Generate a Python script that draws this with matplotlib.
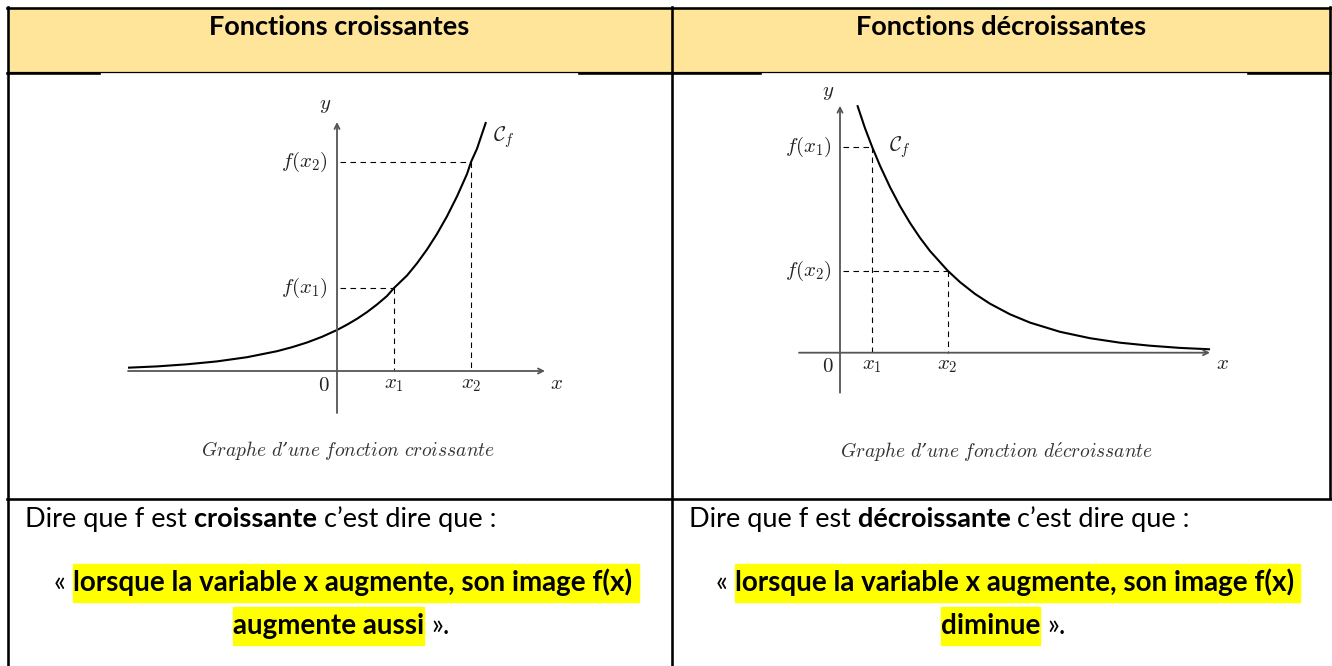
import matplotlib.pyplot as plt
from matplotlib.patches import Rectangle

plt.rcParams['mathtext.fontset'] = 'cm'
plt.rcParams['font.family'] = ['Lato', 'DejaVu Sans']

# --- donnees (1 unite = 10 px de l'image d'origine) ---
# fonction croissante
inc_x = [-20.9, -18.0, -15.0, -12.0, -9.0, -6.0, -4.5, -3.0, -1.5, 0.0, 1.0, 2.0, 3.0, 4.0, 5.0,
         5.7, 7.0, 8.0, 9.0, 10.0, 11.0, 12.0, 13.0, 13.4, 14.0, 14.9]
inc_y = [0.33, 0.46, 0.67, 0.96, 1.38, 1.98, 2.38, 2.85, 3.42, 4.1, 4.63, 5.22, 5.89, 6.65, 7.5,
         8.3, 9.55, 10.77, 12.15, 13.71, 15.47, 17.46, 19.7, 20.9, 22.23, 24.9]
inc_x12 = [5.7, 13.4]
inc_f12 = [8.3, 20.9]

# fonction decroissante
dec_x = [1.73, 2.5, 3.23, 4.0, 5.0, 6.0, 7.0, 8.0, 9.0, 10.77, 12.0, 13.5, 15.0, 17.0, 19.0,
         22.0, 25.0, 28.0, 31.0, 34.0, 37.0]
dec_y = [24.75, 22.45, 20.54, 18.7, 16.56, 14.66, 12.98, 11.49, 10.17, 8.2, 7.06, 5.88, 4.9, 3.84, 3.01,
         2.09, 1.45, 1.0, 0.7, 0.48, 0.34]
dec_x12 = [3.23, 10.77]
dec_f12 = [20.54, 8.2]

headers = ["Fonctions croissantes", "Fonctions décroissantes"]
mots = ["croissante", "décroissante"]
fin = ["augmente aussi", "diminue"]
legendes = ["$\\mathit{Graphe\\ d}$\u2019$\\mathit{une\\ fonction\\ croissante}$",
            "$\\mathit{Graphe\\ d}$\u2019$\\mathit{une\\ fonction\\ d\\acute{e}croissante}$"]

W, H = 1332, 666
fig = plt.figure(figsize=(W / 100, H / 100), dpi=100)
ax0 = fig.add_axes([0, 0, 1, 1])
ax0.set_xlim(0, W)
ax0.set_ylim(H, 0)
ax0.axis('off')
r = fig.canvas.get_renderer()

# --- tableau ---
ax0.add_patch(Rectangle((8, 8), 1322, 64, color='#FFE599', zorder=0))
px = 0.72
lw_b = 2.6 * px
ax0.plot([7, 1331], [8, 8], color='black', lw=lw_b)
ax0.plot([7.5, 7.5], [7, H], color='black', lw=lw_b)
ax0.plot([671.5, 671.5], [7, H], color='black', lw=lw_b)
ax0.plot([1330, 1330], [7, 498], color='black', lw=lw_b)
ax0.plot([7, 1330], [72, 72], color='black', lw=1.2 * px)
for a, b in [(7, 99), (579, 760), (1248, 1330)]:
    ax0.plot([a, b], [73, 73], color='black', lw=lw_b)
ax0.plot([7, W], [498.5, 498.5], color='black', lw=lw_b)


def largeur(s, **kw):
    t = ax0.text(0, 0, '|' + s + '|', **kw)
    w1 = t.get_window_extent(renderer=r).width
    t.remove()
    t = ax0.text(0, 0, '||', **kw)
    w2 = t.get_window_extent(renderer=r).width
    t.remove()
    return w1 - w2


def ligne(morceaux, x, y, fs, centre=False):
    kws = [dict(fontsize=fs, fontweight='bold' if g else 'normal') for s, g, hl in morceaux]
    ws = [largeur(s, **kw) for (s, g, hl), kw in zip(morceaux, kws)]
    if centre:
        x = x - sum(ws) / 2
    for (s, g, hl), kw, w in zip(morceaux, kws, ws):
        if hl:
            ax0.add_patch(Rectangle((x, y - 27), w, 38, color='#FFFF00', zorder=1))
        dx = largeur(s[:len(s) - len(s.lstrip())], **kw) if s != s.lstrip() else 0
        ax0.text(x + dx, y, s.lstrip(), va='baseline', ha='left', color='black', zorder=2, **kw)
        x += w


for i, (xl, xc) in enumerate([(25, 339.5), (689, 1001)]):
    ax0.text(xc, 35, headers[i], fontsize=19.5, fontweight='bold', ha='center', va='baseline')
    ligne([("Dire que f est ", False, False), (mots[i] + " ", True, False),
           ("c\u2019est dire que :", False, False)], xl, 527, 19.5)
    ligne([("\u00ab ", False, False), ("lorsque la variable x augmente, son image f(x) ", True, True)],
          xc + 7, 591, 20, centre=True)
    ligne([(fin[i], True, True), (" \u00bb.", False, False)], xc + 2, 634, 20, centre=True)

# --- graphes ---
gris = '#555555'
fs_m = 15


def graphe(rect, xlim, ylim, cx, cy, x12, f12, xa, ya, lab, txt):
    ax = fig.add_axes(rect)
    ax.set_xlim(*xlim)
    ax.set_ylim(*ylim)
    ax.axis('off')
    fl = dict(arrowstyle='->', color=gris, lw=1.3, mutation_scale=9, shrinkA=0, shrinkB=0)
    ax.annotate('', xy=(xa[1], 0), xytext=(xa[0], 0), arrowprops=fl)
    ax.annotate('', xy=(0, ya[1]), xytext=(0, ya[0]), arrowprops=fl)
    for xi, fi in zip(x12, f12):
        ax.plot([0.3, xi], [fi, fi], color='black', lw=0.8, ls=(0, (5, 4)))
        ax.plot([xi, xi], [fi, 0], color='black', lw=0.8, ls=(0, (5, 4)))
    ax.plot(cx, cy, color='black', lw=1.5, solid_capstyle='butt')
    kw = dict(fontsize=fs_m, color='#222222')
    ax.text(lab['y'][0], lab['y'][1], r'$y$', ha='center', va='center', **kw)
    ax.text(lab['x'][0], lab['x'][1], r'$x$', ha='center', va='center', **kw)
    ax.text(lab['0'][0], lab['0'][1], r'$0$', ha='center', va='center', **kw)
    for k, (xi, fi) in enumerate(zip(x12, f12)):
        ax.text(xi, lab['0'][1] + 0.1, r'$x_%d$' % (k + 1), ha='center', va='center', **kw)
        ax.text(lab['f'], fi, r'$f(x_%d)$' % (k + 1), ha='right', va='center', **kw)
    ax.text(lab['C'][0], lab['C'][1], r'$\mathcal{C}_f$', ha='left', va='center', **kw)
    ax.text(lab['cap'][0], lab['cap'][1], txt, ha='center', va='center',
            fontsize=14, color='#333333', family='DejaVu Serif', style='italic')


graphe([100 / W, (H - 480) / H, 480 / W, 400 / H], (-23.7, 24.3), (-10.9, 29.1),
       inc_x, inc_y, inc_x12, inc_f12, (-20.9, 20.8), (-4.2, 24.9),
       {'y': (-1.2, 26.6), 'x': (22.0, -1.2), '0': (-1.3, -1.4), 'f': -0.9,
        'C': (15.6, 23.4), 'cap': (1.1, -7.9)}, legendes[0])

graphe([770 / W, (H - 480) / H, 480 / W, 400 / H], (-7.0, 41.0), (-12.73, 27.27),
       dec_x, dec_y, dec_x12, dec_f12, (-4.1, 37.0), (-4.0, 24.7),
       {'y': (-1.2, 26.1), 'x': (38.2, -1.0), '0': (-1.2, -1.35), 'f': -0.85,
        'C': (4.9, 20.6), 'cap': (15.7, -10.0)}, legendes[1])

plt.savefig('out.png', dpi=100)
